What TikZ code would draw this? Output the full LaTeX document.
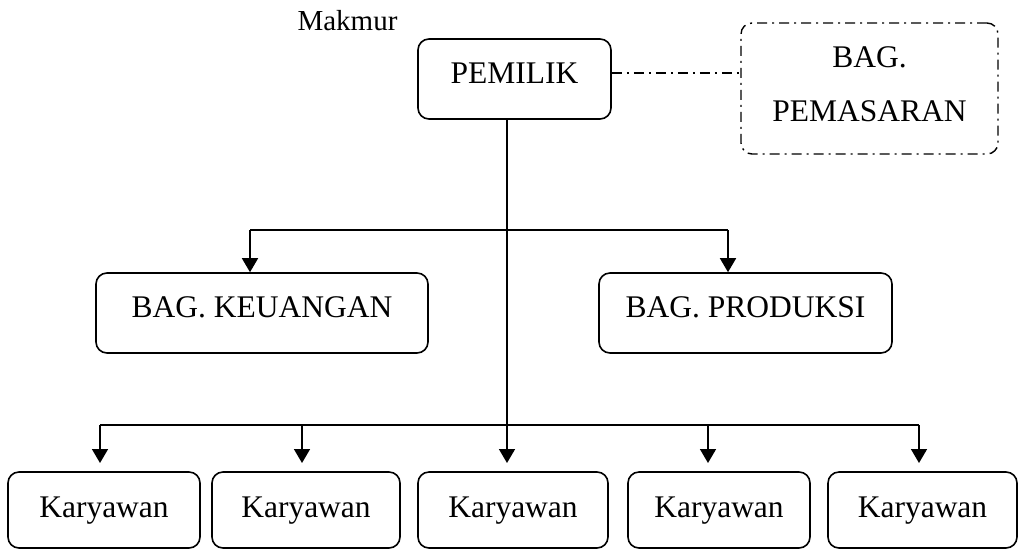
\documentclass[tikz,border=0pt]{standalone}
\usepackage{fontspec}
\setmainfont{Liberation Serif}
\usetikzlibrary{arrows.meta}
\begin{document}
\begin{tikzpicture}[x=1pt,y=-1pt,
  box/.style={draw,line width=1.6pt,rounded corners=11pt,inner sep=0pt,
    font=\fontsize{31.5}{36}\selectfont,text height=20pt,text depth=12pt},
  kbox/.style={box,minimum height=76pt,text height=20pt,text depth=6pt},
  conn/.style={line width=1.6pt},
  arr/.style={conn,-{Triangle[width=16pt,length=14pt]}},
  dashdot/.style={line width=1.4pt,dash pattern=on 10pt off 5pt on 2pt off 5pt}]
\useasboundingbox (0,0) rectangle (1019,550);
\node[font=\fontsize{29}{34}\selectfont,anchor=base] (title) at (347.5,30) {Makmur};
\node[box,minimum width=193pt,minimum height=80pt] (pem) at (514.5,79) {PEMILIK};
\node[box,dashdot,minimum width=257pt,minimum height=131pt] (pms) at (869.5,88.5) {};
\node[font=\fontsize{31.5}{54}\selectfont,align=center,inner sep=0pt] (pmstext) at (869.5,84.5) {BAG.\\PEMASARAN};
\node[box,minimum width=332pt,minimum height=80pt] (keu) at (262,313) {BAG. KEUANGAN};
\node[box,minimum width=293pt,minimum height=80pt] (pro) at (745.5,313) {BAG. PRODUKSI};
\node[kbox,minimum width=192pt] (k1) at (104,510) {Karyawan};
\node[kbox,minimum width=188pt] (k2) at (306,510) {Karyawan};
\node[kbox,minimum width=190pt] (k3) at (513,510) {Karyawan};
\node[kbox,minimum width=182pt] (k4) at (719,510) {Karyawan};
\node[kbox,minimum width=189pt] (k5) at (922.5,510) {Karyawan};
% coordinates
\coordinate (d) at (0,73);
\coordinate (j1) at (507,230);
\coordinate (a1) at (250,230);
\coordinate (a2) at (728,230);
\coordinate (j2) at (507,425);
\coordinate (b1) at (100,425);
\coordinate (b2) at (302,425);
\coordinate (b4) at (708,425);
\coordinate (b5) at (919,425);
\coordinate (t) at (0,463);
% connectors
\draw[dashdot] (pem.east |- d) -- (pms.west |- d);
\draw[conn] (pem.south -| j1) -- (j2);
\draw[conn] (a1) -- (a2);
\draw[arr] (a1) -- (a1 |- keu.north);
\draw[arr] (a2) -- (a2 |- pro.north);
\draw[conn] (b1) -- (b5);
\draw[arr] (b1) -- (b1 |- t);
\draw[arr] (b2) -- (b2 |- t);
\draw[arr] (j2) -- (j2 |- t);
\draw[arr] (b4) -- (b4 |- t);
\draw[arr] (b5) -- (b5 |- t);
\end{tikzpicture}
\end{document}
